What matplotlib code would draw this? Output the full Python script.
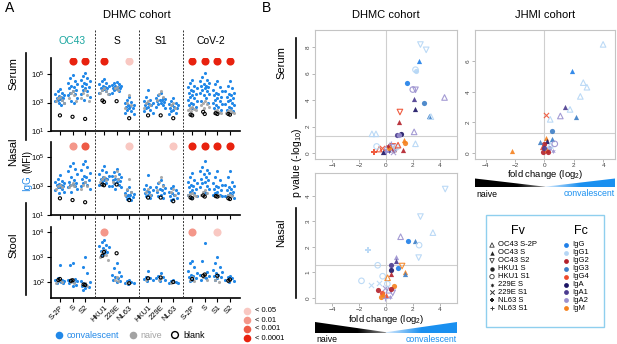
import matplotlib
matplotlib.use("Agg")
import matplotlib.pyplot as plt
import matplotlib.transforms as mtransforms
import numpy as np
from matplotlib.lines import Line2D
from matplotlib.patches import Polygon, Rectangle

plt.rcParams["font.family"] = ["Liberation Sans", "DejaVu Sans"]
plt.rcParams["mathtext.fontset"] = "custom"
plt.rcParams["mathtext.rm"] = "Liberation Sans"
plt.rcParams["mathtext.it"] = "Liberation Sans:italic"
plt.rcParams["mathtext.bf"] = "Liberation Sans:bold"

# ---------------- panel A data (log10 MFI) ----------------
antigens = ["S-2P", "S", "S2", "HKU1", "229E", "NL63", "HKU1", "229E", "NL63",
            "S-2P", "S", "S1", "S2"]
groups = ["OC43", "S", "S1", "CoV-2"]

serum_conv = [
    [3.95, 3.8, 3.7, 3.6, 3.5, 3.45, 3.4, 3.35, 3.3, 3.25, 3.2, 3.15, 3.1, 3.0, 2.95, 2.85],
    [4.95, 4.7, 4.5, 4.4, 4.3, 4.2, 4.1, 4.0, 3.9, 3.8, 3.7, 3.6, 3.5, 3.3, 3.1, 2.95],
    [5.1, 4.9, 4.75, 4.6, 4.5, 4.4, 4.3, 4.2, 4.1, 4.0, 3.9, 3.8, 3.6, 3.4, 3.2],
    [4.65, 4.5, 4.4, 4.3, 4.2, 4.15, 4.1, 4.05, 4.0, 3.95, 3.9, 3.8, 3.7, 3.6],
    [4.45, 4.35, 4.3, 4.25, 4.2, 4.15, 4.1, 4.05, 4.0, 3.95, 3.9, 3.8, 3.7],
    [3.4, 3.2, 3.05, 2.95, 2.85, 2.8, 2.75, 2.7, 2.65, 2.6, 2.5, 2.4, 2.3, 2.2],
    [3.9, 3.4, 3.2, 3.1, 3.0, 2.95, 2.9, 2.85, 2.8, 2.7, 2.6, 2.5, 2.4, 2.3],
    [3.7, 3.5, 3.35, 3.3, 3.25, 3.2, 3.15, 3.1, 3.05, 3.0, 2.9, 2.8, 2.7, 2.6],
    [3.3, 3.1, 3.0, 2.9, 2.85, 2.8, 2.7, 2.65, 2.6, 2.5, 2.4, 2.3, 2.2],
    [4.6, 4.4, 4.2, 4.1, 4.0, 3.9, 3.8, 3.7, 3.6, 3.5, 3.4, 3.3, 3.2, 3.1, 3.0, 2.9, 2.8, 2.7, 2.6],
    [5.1, 4.8, 4.6, 4.5, 4.4, 4.3, 4.2, 4.15, 4.1, 4.0, 3.9, 3.8, 3.7, 3.6, 3.5, 3.3, 3.1, 3.0],
    [4.55, 4.3, 4.1, 3.9, 3.8, 3.7, 3.6, 3.5, 3.4, 3.3, 3.2, 3.1, 3.0, 2.9, 2.8, 2.7, 2.6, 2.5],
    [4.5, 4.2, 4.0, 3.85, 3.7, 3.6, 3.5, 3.4, 3.3, 3.2, 3.1, 3.0, 2.9, 2.8, 2.7, 2.6, 2.5, 2.4],
]
serum_naive = [
    [3.4, 3.3, 3.2, 3.1, 3.0], [3.8, 3.7, 3.5, 3.3, 3.1], [3.9, 3.7, 3.5, 3.3, 3.1],
    [4.0, 3.9, 3.8, 3.7, 3.6], [4.1, 4.0, 3.9], [3.5, 3.0, 2.8, 2.6],
    [3.1, 3.0, 2.8, 2.6], [3.8, 3.6, 3.4, 3.2], [3.0, 2.8, 2.6],
    [2.7, 2.6, 2.55, 2.5, 2.45, 2.4], [3.1, 3.0, 2.9, 2.8, 2.7, 2.6],
    [2.5, 2.4, 2.35, 2.3, 2.25], [2.45, 2.4, 2.35, 2.3, 2.25],
]
serum_blank = [[2.1], [2.0], [1.85], [3.05, 3.15], [3.1], [1.9], [2.1], [2.1], [1.9],
               [2.1, 2.15], [2.2, 2.35], [2.2, 2.25], [2.15, 2.2]]

nasal_conv = [
    [3.75, 3.5, 3.35, 3.25, 3.2, 3.15, 3.1, 3.05, 3.0, 2.95, 2.9, 2.8, 2.7, 2.6, 2.5],
    [4.6, 4.4, 4.2, 4.0, 3.8, 3.6, 3.4, 3.3, 3.2, 3.15, 3.1, 3.0, 2.9, 2.8, 2.6],
    [4.7, 4.5, 4.3, 4.1, 3.9, 3.7, 3.6, 3.5, 3.4, 3.3, 3.2, 3.1, 3.0, 2.8],
    [4.35, 4.1, 3.95, 3.8, 3.7, 3.6, 3.55, 3.5, 3.45, 3.4, 3.3, 3.2, 3.1, 3.0],
    [4.2, 3.95, 3.8, 3.7, 3.6, 3.5, 3.45, 3.4, 3.35, 3.3, 3.2, 3.1, 3.0, 2.9, 2.8],
    [2.9, 2.75, 2.6, 2.5, 2.45, 2.4, 2.35, 2.3, 2.25, 2.2, 2.1, 2.05],
    [3.75, 3.1, 2.9, 2.8, 2.7, 2.65, 2.6, 2.5, 2.4, 2.35, 2.3, 2.2],
    [3.4, 3.2, 3.05, 2.95, 2.85, 2.8, 2.7, 2.6, 2.5, 2.4, 2.3, 2.2],
    [3.0, 2.85, 2.7, 2.6, 2.55, 2.5, 2.4, 2.3, 2.2, 2.1, 2.0],
    [3.9, 3.6, 3.4, 3.3, 3.2, 3.1, 3.0, 2.9, 2.8, 2.7, 2.6, 2.5, 2.4, 2.3, 2.2],
    [4.7, 4.3, 4.1, 4.0, 3.9, 3.8, 3.6, 3.5, 3.4, 3.3, 3.2, 3.0, 2.9, 2.8, 2.6, 2.5],
    [4.0, 3.6, 3.4, 3.2, 3.1, 3.0, 2.9, 2.8, 2.7, 2.6, 2.5, 2.4, 2.35, 2.3],
    [4.0, 3.6, 3.3, 3.1, 3.0, 2.9, 2.8, 2.7, 2.6, 2.5, 2.4, 2.35, 2.3, 2.2],
]
nasal_naive = [
    [3.1, 3.0, 2.9, 2.8], [3.2, 3.1, 3.0, 2.9], [3.3, 3.1, 3.0, 2.8], [3.6, 3.5, 3.4, 3.3],
    [4.0, 3.7, 3.5, 3.3], [3.5, 2.8, 2.6, 2.4], [2.8, 2.6, 2.4], [3.6, 3.3, 3.0, 2.7],
    [2.8, 2.6, 2.4], [2.5, 2.45, 2.4, 2.35, 2.3], [2.7, 2.6, 2.5, 2.4], [2.4, 2.35, 2.3],
    [2.4, 2.35, 2.3],
]
nasal_blank = [[2.15], [2.03], [1.88], [3.05, 3.1], [3.1], [2.03], [2.2], [2.2], [1.95],
               [2.15, 2.2], [2.27, 2.35], [2.27, 2.3], [2.1, 2.15]]

stool_conv = [
    [2.68, 2.15, 2.1, 2.08, 2.05, 2.03, 2.0, 1.98, 1.95],
    [2.77, 2.7, 2.12, 2.1, 2.06, 2.03, 2.0, 1.97, 1.9, 1.85],
    [3.0, 2.6, 2.35, 2.05, 2.0, 1.95, 1.9, 1.85, 1.8, 1.75, 1.7],
    [3.7, 3.6, 3.5, 3.45, 3.4, 3.35, 3.3, 3.25, 3.2, 3.15, 3.1],
    [2.75, 2.55, 2.4, 2.3, 2.25, 2.2, 2.15, 2.1, 2.05, 2.0],
    [2.1, 2.05, 2.0, 1.97, 1.95, 1.92],
    [2.45, 2.2, 2.15, 2.12, 2.1, 2.05],
    [2.38, 2.25, 2.2, 2.15, 2.1, 2.05],
    [2.1, 2.05, 2.0, 1.98, 1.95],
    [2.85, 2.75, 2.6, 2.45, 2.35, 2.3, 2.25, 2.2, 2.15, 2.1, 2.05],
    [3.55, 2.85, 2.4, 2.3, 2.25, 2.2, 2.15, 2.1],
    [3.0, 2.75, 2.6, 2.5, 2.4, 2.35, 2.3, 2.25, 2.2, 2.15, 2.1],
    [2.25, 2.2, 2.15, 2.1, 2.05, 2.0],
]
stool_naive = [
    [2.1, 2.05, 2.0, 1.98], [2.08, 2.02, 1.98], [1.95, 1.9, 1.85], [3.3, 3.2, 3.1, 3.0, 2.9],
    [2.2, 2.1, 2.05], [2.0, 1.95], [2.15, 2.1], [2.15, 2.1], [2.0, 1.97],
    [2.2, 2.1, 2.05], [2.3, 2.2, 2.1], [2.2, 2.1, 2.0], [2.1, 2.05],
]
stool_blank = [[2.12, 2.08], [2.07, 2.05], [1.88, 1.9], [3.2, 3.05], [3.15], [1.95], [2.15],
               [2.18], [2.0], [2.12], [2.3, 2.25], [2.25], [2.1, 2.05]]

# significance: (column, level) level 0:<0.05 1:<0.01 2:<0.001 3:<0.0001
serum_sig = [(1, 3), (2, 3), (3, 3), (5, 0), (9, 3), (10, 3), (11, 3), (12, 3)]
nasal_sig = [(1, 1), (2, 2), (5, 0), (8, 0), (9, 3), (10, 3), (11, 3), (12, 3)]
stool_sig = [(3, 1), (9, 1), (11, 0)]
p_labels = ["< 0.05", "< 0.01", "< 0.001", "< 0.0001"]

# ---------------- panel B data ----------------
fv_names = ["OC43 S-2P", "OC43 S", "OC43 S2", "HKU1 S", "HKU1 S1", "229E S", "229E S1",
            "NL63 S", "NL63 S1"]
fc_names = ["IgG", "IgG1", "IgG2", "IgG3", "IgG4", "IgA", "IgA1", "IgA2", "IgM"]

ser_fold = [2.57, 3.0, 2.44, 2.2, 2.25, 1.56, 2.2, 2.0, 4.37, 2.07, 2.8, 2.15, 1.04, 3.2,
            3.35, 0.98, 2.1, 0.8, 1.1, 0.95, -1.05, -0.75, 1.35, 1.45, 2.2, 1.25, -0.9,
            0.3, 0.5, 0.1, -0.3, 0.6, 0.2, 0.4, -0.5, 0.8, 0.0, 0.25, -0.2, 0.7, 0.15, 0.55,
            -0.7, 0.9]
ser_p = [8.2, 7.8, 6.97, 6.3, 6.2, 5.3, 4.78, 4.8, 4.2, 4.06, 3.77, 3.3, 3.1, 2.8,
         2.75, 2.36, 1.6, 1.4, 1.42, 1.38, 1.45, 1.45, 0.95, 0.75, 0.7, 0.2, 0.1,
         0.6, 0.5, 0.3, 0.4, 0.2, 0.15, 0.7, 0.3, 0.45, 0.05, 0.35, 0.1, 0.25, 0.5, 0.1,
         0.5, 0.6]
ser_fv = [2, 2, 1, 4, 3, 3, 2, 4, 0, 1, 3, 1, 2, 1,
          0, 1, 0, 3, 3, 3, 0, 0, 1, 3, 0, 1, 7,
          0, 2, 4, 6, 3, 5, 8, 0, 4, 7, 3, 1, 2, 5, 6,
          4, 0]
ser_fc = [1, 1, 0, 1, 1, 0, 7, 7, 7, 6, 3, 5, 4, 3,
          1, 2, 7, 6, 5, 7, 1, 1, 8, 8, 1, 2, 4,
          1, 4, 7, 4, 2, 6, 7, 4, 1, 7, 8, 5, 1, 2, 7,
          1, 4]

nas_fold = [4.42, 2.57, 3.5, 1.09, 1.64, 2.13, 2.47, 2.44, -1.32, 0.78, 0.72, 0.34, -0.62,
            0.34, 0.88, 1.2, 0.35, 1.4, 1.45, -0.25, 0.12, -1.83, 0.6, -0.6,
            -0.3, 0.0, -0.1, 0.2, -0.4, 0.1, -0.2, 0.3, -0.5, 0.5, -0.05, 0.4, -1.1]
nas_p = [4.27, 3.19, 2.56, 2.4, 2.23, 2.23, 2.07, 1.58, 1.88, 1.6, 1.44, 1.28, 1.28,
         1.08, 1.17, 1.25, 0.94, 1.0, 0.92, 0.85, 0.79, 0.67, 0.48, 0.3,
         0.2, 0.1, 0.4, 0.3, 0.05, 0.55, 0.15, 0.05, 0.6, 0.2, 0.0, 0.35, 0.5]
nas_fv = [2, 2, 0, 0, 3, 1, 4, 2, 7, 1, 1, 3, 4,
          3, 3, 2, 1, 1, 1, 4, 0, 4, 3, 3,
          3, 1, 6, 0, 3, 4, 1, 5, 6, 2, 8, 3, 6]
nas_fc = [1, 1, 1, 7, 0, 3, 1, 1, 1, 7, 6, 6, 1,
          5, 0, 8, 2, 8, 3, 1, 8, 1, 8, 2,
          4, 4, 7, 7, 8, 1, 8, 7, 1, 7, 7, 2, 1]

jh_fold = [3.99, 1.87, 2.64, 2.89, 2.44, 1.4, 1.74, 1.08, 2.14, 0.07, 0.39, 0.53, -2.18,
           0.1, 0.2, 0.0, -0.2, 0.3, -0.1, 0.4, 0.5, -0.3, 0.15, 0.6, -0.05, 0.25, 0.7]
jh_p = [7.1, 5.38, 4.6, 4.3, 3.7, 3.0, 2.85, 2.42, 2.38, 2.48, 2.2, 1.43, 0.13,
        1.0, 0.8, 0.6, 0.4, 0.3, 0.1, 0.5, 0.9, 0.7, 0.2, 0.15, 0.35, 0.05, 0.6]
jh_fv = [0, 1, 0, 0, 0, 1, 0, 0, 1, 6, 0, 3, 1,
         1, 1, 3, 1, 3, 3, 0, 1, 1, 1, 5, 3, 3, 4]
jh_fc = [1, 0, 1, 1, 1, 6, 1, 7, 3, 4, 1, 3, 8,
         8, 5, 2, 4, 7, 2, 1, 3, 3, 8, 7, 6, 2, 7]

# ---------------- styles ----------------
W, H = 617, 344
BLUE = "#2188e8"
GREY = "#a3a3a3"
TEAL = "#1aa6a0"
WEDGE_BLUE = "#1a90f0"
p_colors = ["#f9c8c2", "#f4978a", "#ee5b46", "#e8220f"]
fc_colors = ["#1f7fe8", "#b5d6f5", "#b3212b", "#3d7ec6", "#ee4a2b", "#1b1464",
             "#4b3c8f", "#9a90cf", "#f5821f"]
fv_markers = ["^", "^", "v", "o", "o", (6, 1, 0), "x", "P", "+"]
fv_filled = [False, True, False, True, False, True, False, True, False]

xpos = [0, 1, 2, 3.5, 4.5, 5.5, 7, 8, 9, 10.5, 11.5, 12.5, 13.5]
group_centers = [1, 4.5, 8, 12]
dividers = [2.75, 6.25, 9.75]

fig = plt.figure(figsize=(W / 100, H / 100), dpi=100)


def px_axes(l, t, r, b):
    return fig.add_axes([l / W, 1 - b / H, (r - l) / W, (b - t) / H])


def ftext(x, y, s, **kw):
    fig.text(x / W, 1 - y / H, s, **kw)


def fline(x0, y0, x1, y1, **kw):
    fig.add_artist(Line2D([x0 / W, x1 / W], [1 - y0 / H, 1 - y1 / H],
                          transform=fig.transFigure, **kw))


def swarm(n, width=0.36):
    pattern = [0, -0.5, 0.5, -1, 1, -0.25, 0.25, -0.75, 0.75]
    return np.array([pattern[i % len(pattern)] for i in range(n)]) * width


def draw_row(ax, conv, naive, blank, sig, ylo, yhi, sig_y, yt, show_x):
    for i, x in enumerate(xpos):
        c = np.array(conv[i])
        ax.scatter(x + swarm(len(c)), 10 ** c, s=5, color=BLUE, lw=0, zorder=2)
        n = np.array(naive[i])
        ax.scatter(x + swarm(len(n), 0.3), 10 ** n, s=5, color=GREY, lw=0, alpha=0.9, zorder=3)
        b = np.array(blank[i])
        ax.scatter(x + swarm(len(b), 0.25), 10 ** b, s=5, facecolor="none",
                   edgecolor="black", lw=0.8, zorder=4)
    for col, lvl in sig:
        ax.scatter(xpos[col], 10 ** sig_y, s=34, color=p_colors[lvl], lw=0, zorder=5)
    ax.set_yscale("log")
    ax.set_ylim(10 ** ylo, 10 ** yhi)
    ax.set_xlim(-0.71, 14.3)
    ax.set_yticks([10 ** v for v in yt])
    ax.set_yticklabels(["$10^{%d}$" % v for v in yt])
    ax.yaxis.set_minor_locator(matplotlib.ticker.NullLocator())
    ax.set_xticks(xpos)
    if show_x:
        ax.set_xticklabels(antigens, rotation=45, ha="right", rotation_mode="anchor",
                           fontsize=6.5)
    else:
        ax.set_xticklabels([])
    for sp in ["top", "right"]:
        ax.spines[sp].set_visible(False)
    for sp in ["left", "bottom"]:
        ax.spines[sp].set_linewidth(1.2)
    ax.tick_params(axis="both", length=3, width=0.8, labelsize=5.5, pad=1.5)


ax_ser = px_axes(51, 58, 240, 131)
draw_row(ax_ser, serum_conv, serum_naive, serum_blank, serum_sig, 1, 6.14, 5.93, [1, 3, 5], False)
ax_nas = px_axes(51, 142, 240, 215)
draw_row(ax_nas, nasal_conv, nasal_naive, nasal_blank, nasal_sig, 1, 6.03, 5.76, [1, 3, 5], False)
ax_sto = px_axes(51, 227, 240, 298)
draw_row(ax_sto, stool_conv, stool_naive, stool_blank, stool_sig, 1.36, 4.2, 4.0, [2, 3, 4], True)

# dashed dividers and group labels
blend = mtransforms.blended_transform_factory(ax_ser.transData, fig.transFigure)
for d in dividers:
    fig.add_artist(Line2D([d, d], [1 - 30 / H, 1 - 298 / H], transform=blend,
                          color="#333333", lw=0.7, ls=(0, (2, 1.5))))
for g, xc in zip(groups, group_centers):
    fig.text(xc, 1 - 41 / H, g, transform=blend, ha="center", va="center", fontsize=7.5,
             color=TEAL if g == "OC43" else "black")

ftext(5, 8, "A", fontsize=10, va="center")
ftext(137, 15, "DHMC cohort", fontsize=8, ha="center", va="center")
ftext(13, 74, "Serum", rotation=90, fontsize=8, ha="center", va="center")
ftext(13, 152, "Nasal", rotation=90, fontsize=8, ha="center", va="center")
ftext(13, 245, "Stool", rotation=90, fontsize=8, ha="center", va="center")
ftext(27, 162, "(MFI)", rotation=90, fontsize=7, ha="center", va="center")
ftext(27, 183, "IgG", rotation=90, fontsize=7, ha="center", va="center", color=BLUE)
fline(26, 53, 26, 140, color="black", lw=1.2)
fline(26, 203, 26, 295, color="black", lw=1.2)

# overlay for legends (pixel coordinates)
ov = fig.add_axes([0, 0, 1, 1], zorder=10)
ov.set_xlim(0, W)
ov.set_ylim(H, 0)
ov.axis("off")

ov.scatter([59], [335], s=30, color=BLUE, lw=0)
ov.text(67, 335, "convalescent", color=BLUE, fontsize=6.5, va="center")
ov.scatter([133], [335], s=30, color=GREY, lw=0)
ov.text(140, 335, "naive", color=GREY, fontsize=6.5, va="center")
ov.scatter([175], [335], s=24, facecolor="none", edgecolor="black", lw=1.0)
ov.text(183, 335, "blank", color="black", fontsize=6.5, va="center")
for k, lab in enumerate(p_labels):
    yy = 311 + k * 9
    ov.scatter([247], [yy], s=30, color=p_colors[k], lw=0)
    ov.text(255, yy, lab, fontsize=5.5, va="center")

# ---------------- panel B ----------------
def volcano(ax, fold, p, fv, fc, xlim, ylim, yticks):
    for f, q, v, c in zip(fold, p, fv, fc):
        col = fc_colors[c]
        if fv_markers[v] in ("x", "+"):
            ax.scatter(f, q, s=14, marker=fv_markers[v], color=col, lw=0.8, alpha=0.85, zorder=3)
        elif fv_filled[v]:
            ax.scatter(f, q, s=14, marker=fv_markers[v], color=col, lw=0, alpha=0.9, zorder=3)
        else:
            ax.scatter(f, q, s=16, marker=fv_markers[v], facecolor="none", edgecolor=col,
                       lw=0.8, alpha=0.9, zorder=3)
    ax.axhline(1.3, color="#cfcfcf", lw=0.8, zorder=1)
    ax.axvline(0, color="#cfcfcf", lw=0.8, zorder=1)
    ax.set_xlim(*xlim)
    ax.set_ylim(*ylim)
    ax.set_xticks([-4, -2, 0, 2, 4])
    ax.set_yticks(yticks)
    for sp in ax.spines.values():
        sp.set_color("#c4c4c4")
        sp.set_linewidth(0.8)
    ax.tick_params(axis="both", length=2, width=0.5, color="#999999", labelsize=4.6,
                   labelcolor="#444444", pad=1.2)
    ax.tick_params(axis="y", labelrotation=90)
    for lbl in ax.get_yticklabels():
        lbl.set_va("center")


ax_b1 = px_axes(315, 30, 457, 159)
volcano(ax_b1, ser_fold, ser_p, ser_fv, ser_fc, (-5.3, 5.3), (-0.45, 9.3), [0, 2, 4, 6, 8])
ax_b2 = px_axes(315, 173, 457, 303)
volcano(ax_b2, nas_fold, nas_p, nas_fv, nas_fc, (-5.3, 5.3), (-0.2, 4.9), [0, 1, 2, 3, 4])
ax_b2.set_xlabel("fold change (log$_2$)", fontsize=6.8, va="center")
ax_b2.xaxis.set_label_coords(0.5, -16.0 / 130)
ax_b3 = px_axes(475, 30, 615, 159)
volcano(ax_b3, jh_fold, jh_p, jh_fv, jh_fc, (-4.73, 4.8), (-0.39, 8.04), [0, 2, 4, 6])
ax_b3.set_xlabel("fold change (log$_2$)", fontsize=6.8, va="center")
ax_b3.xaxis.set_label_coords(0.5, -15.5 / 129)

ftext(262, 8, "B", fontsize=10, va="center")
ftext(386, 15, "DHMC cohort", fontsize=8, ha="center", va="center")
ftext(545, 15, "JHMI cohort", fontsize=8, ha="center", va="center")
ftext(281, 63, "Serum", rotation=90, fontsize=8, ha="center", va="center")
ftext(281, 233, "Nasal", rotation=90, fontsize=8, ha="center", va="center")
ftext(297, 163, "p value (-log$_{10}$)", rotation=90, fontsize=7.5, ha="center", va="center")
fline(296, 38, 296, 118, color="black", lw=1.2)
fline(296, 208, 296, 298, color="black", lw=1.2)

# wedges naive -> convalescent, with a black / blue gradient
u = np.linspace(0, 1, 300)
black_rgb = np.array([0, 0, 0])
blue_rgb = np.array(matplotlib.colors.to_rgb(WEDGE_BLUE))
light_blue = np.array([0.85, 0.92, 0.99])
grad = np.zeros((1, len(u), 3))
for j, v in enumerate(u):
    if v < 0.5:
        w = max(0.0, (v - 0.3) / 0.2)
        grad[0, j] = black_rgb * (1 - w) + np.array([0.55, 0.55, 0.55]) * w
    else:
        w = min(1.0, (v - 0.5) / 0.25)
        grad[0, j] = light_blue * (1 - w) + blue_rgb * w

for (l, t, r, b, ty) in [(315, 322, 457, 333, 340), (475, 178.5, 615, 187.5, 194.5)]:
    c = (l + r) / 2
    im = ov.imshow(grad, extent=(l, r, b, t), aspect="auto", interpolation="bilinear")
    wedge = Polygon([(l, t), (l, b), (r, b), (r, t), (c, b - 0.8)], closed=True,
                    transform=ov.transData)
    im.set_clip_path(wedge)
    ov.text(l + 1, ty, "naive", fontsize=6.3, va="center")
    ov.text(r, ty - 1, "convalescent", fontsize=6.3, va="center", ha="right", color=WEDGE_BLUE)
ov.set_xlim(0, W)
ov.set_ylim(H, 0)

# Fv / Fc legend box
ov.add_patch(Rectangle((486, 215), 118, 112, fill=False, edgecolor="#8fcfee", lw=1.0))
ov.text(518, 231, "Fv", fontsize=9, ha="center", va="center")
ov.text(581, 231, "Fc", fontsize=9, ha="center", va="center")
for k in range(9):
    yy = 245 + k * 7.9
    m = fv_markers[k]
    if m in ("x", "+"):
        ov.scatter([492], [yy], s=10, marker=m, color="#333333", lw=0.7)
    elif fv_filled[k]:
        ov.scatter([492], [yy], s=10, marker=m, color="#222222", lw=0)
    else:
        ov.scatter([492], [yy], s=10, marker=m, facecolor="none", edgecolor="#333333", lw=0.6)
    ov.text(498, yy, fv_names[k], fontsize=5.5, va="center")
    ov.scatter([566], [yy], s=12, color=fc_colors[k], lw=0)
    ov.text(572, yy, fc_names[k], fontsize=5.5, va="center")

fig.savefig("out.png", dpi=100)
